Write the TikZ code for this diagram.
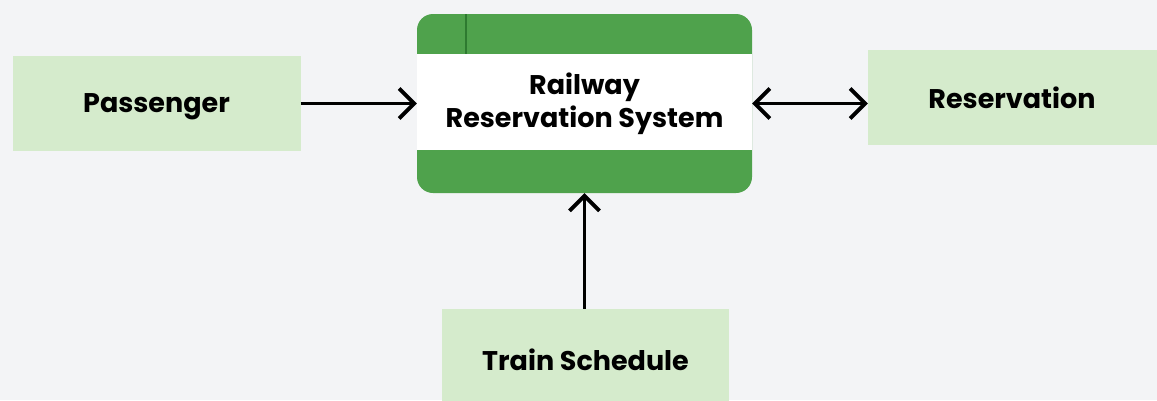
\documentclass[tikz,border=0pt]{standalone}
\usepackage{fontspec}
\setmainfont{Poppins}
\usetikzlibrary{arrows.meta}
\definecolor{pagebg}{HTML}{F3F4F6}
\definecolor{softgreen}{HTML}{D5EBCC}
\definecolor{sysgreen}{HTML}{4FA24C}
\definecolor{darkgreen}{HTML}{2E7A30}
\tikzset{
  entity/.style={fill=softgreen, draw=none, inner sep=0pt, font=\fontsize{27}{33}\selectfont\bfseries},
  arr/.style={line width=3.8pt, -{Straight Barb[length=15pt,width=30pt,line width=3.8pt]}},
  darr/.style={line width=3.8pt, {Straight Barb[length=15pt,width=30pt,line width=3.8pt]}-{Straight Barb[length=15pt,width=30pt,line width=3.8pt]}},
}
\begin{document}
\begin{tikzpicture}[x=1pt,y=1pt]
  \useasboundingbox (0,0) rectangle (1157,-400);
  \fill[pagebg] (0,0) rectangle (1157,-400);
  \clip (0,0) rectangle (1157,-400);

  % central system block: green caps with a white band
  \node[rounded corners=16pt, fill=sysgreen, minimum width=335pt, minimum height=179pt,
        inner sep=0pt, align=center, font=\fontsize{27}{33}\selectfont\bfseries,
        path picture={
          \fill[white, sharp corners] ([yshift=-40pt]path picture bounding box.north west) rectangle ([yshift=43pt]path picture bounding box.south east);
          \draw[darkgreen, line width=1.5pt, sharp corners] ([xshift=49pt]path picture bounding box.north west) -- ++(0,-40pt);
        }] (sys) at (584.5,-103.5) {Railway\\Reservation System};

  \node[entity, text depth=0pt, minimum width=288pt, minimum height=95pt] (pass) at (156.5,-103.5) {Passenger};
  \node[entity, minimum width=300pt, minimum height=95pt] (res) at (1018,-97.5) {\hspace{-12pt}Reservation};
  \node[entity, minimum width=287pt, minimum height=102pt] (train) at (585.5,-360) {Train Schedule};

  \draw[arr] (pass.east) -- (sys.west);
  \draw[darr] (sys.east) -- (sys.east -| res.west);
  \draw[arr] (train.north -| sys.south) -- (sys.south);
\end{tikzpicture}
\end{document}
